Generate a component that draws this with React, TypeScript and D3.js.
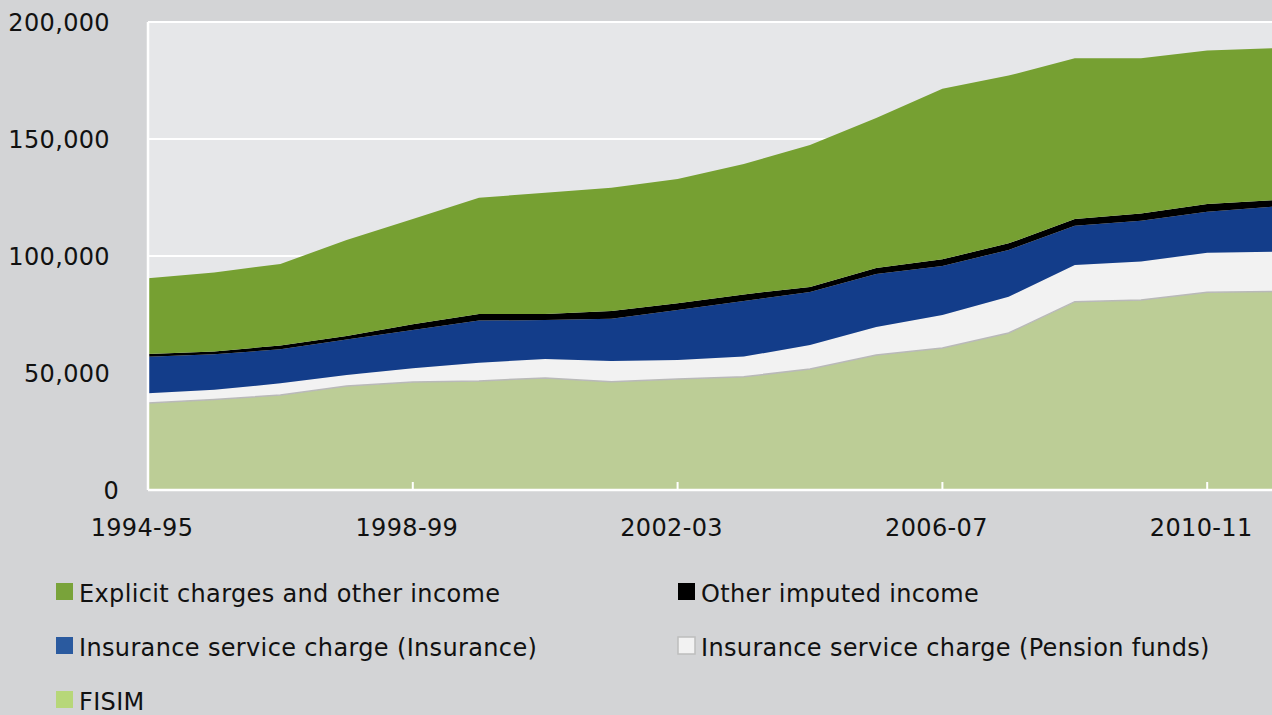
import React, { useRef, useEffect } from 'react';
import * as d3 from 'd3';

// financial services output, £ million, stacked bottom to top
const years = [
  '1994-95', '1995-96', '1996-97', '1997-98', '1998-99', '1999-00', '2000-01', '2001-02', '2002-03',
  '2003-04', '2004-05', '2005-06', '2006-07', '2007-08', '2008-09', '2009-10', '2010-11', '2011-12',
];
const fisim = [37200, 38700, 40600, 44400, 46200, 46600, 47900, 46300, 47400, 48400, 51700, 57700, 60700, 67100, 80500, 81200, 84500, 84800];
const pensionFunds = [4100, 4100, 5000, 4700, 5800, 7800, 8100, 8800, 8200, 8600, 10300, 12000, 14100, 15500, 15700, 16400, 16900, 17000];
const insurance = [15600, 15200, 14500, 15200, 16400, 18000, 16600, 18100, 21300, 23800, 22600, 22600, 20900, 20000, 16700, 17500, 17500, 19300];
const otherImputed = [1200, 1200, 1700, 1500, 2400, 2800, 2600, 3300, 2900, 2800, 2200, 2600, 2900, 2800, 2900, 3100, 3300, 2800];
const explicitCharges = [32400, 33800, 34800, 41000, 45000, 49700, 51800, 52700, 53100, 55700, 60600, 64100, 72900, 71700, 68700, 66300, 65600, 64900];

const yTicks = [0, 50000, 100000, 150000, 200000];
const xTickLabels = ['1994-95', '1998-99', '2002-03', '2006-07', '2010-11'];

const seriesKeys = ['fisim', 'pension', 'insurance', 'other', 'explicit'];
const areaColors: Record<string, string> = {
  fisim: '#bccd96',
  pension: '#f2f2f2',
  insurance: '#133d8a',
  other: '#000000',
  explicit: '#76a032',
};

const legendItems = [
  { label: 'Explicit charges and other income', color: '#79a33a', stroke: 'none' },
  { label: 'Other imputed income', color: '#000000', stroke: 'none' },
  { label: 'Insurance service charge (Insurance)', color: '#2a5a9f', stroke: 'none' },
  { label: 'Insurance service charge (Pension funds)', color: '#f2f2f2', stroke: '#bdbdbd' },
  { label: 'FISIM', color: '#b7d779', stroke: 'none' },
];

export default function App() {
  const svgRef = useRef<SVGSVGElement>(null);

  useEffect(() => {
    document.body.style.margin = '0';
    const w = 1272;
    const h = 715;
    const left = 148;
    const top = 22;
    const bottom = 490;
    const font = '"DejaVu Sans", Verdana, sans-serif';
    const spacing = '0.35px';

    const svg = d3.select(svgRef.current);
    svg.selectAll('*').remove();
    svg.attr('width', w).attr('height', h).style('display', 'block');

    svg.append('rect').attr('width', w).attr('height', h).attr('fill', '#d3d4d6');
    svg.append('rect')
      .attr('x', left).attr('y', top)
      .attr('width', w - left).attr('height', bottom - top)
      .attr('fill', '#e6e7e9');

    const xScale = d3.scalePoint<string>().domain(years).range([left, left + 66.2 * (years.length - 1)]);
    const yScale = d3.scaleLinear().domain([0, 200000]).range([bottom, top]);

    // gridlines
    svg.append('g')
      .selectAll('line')
      .data(yTicks.slice(1))
      .join('line')
      .attr('x1', left).attr('x2', w)
      .attr('y1', (d) => yScale(d)).attr('y2', (d) => yScale(d))
      .attr('stroke', '#ffffff').attr('stroke-width', 2);

    const rows = years.map((y, i) => ({
      year: y,
      fisim: fisim[i],
      pension: pensionFunds[i],
      insurance: insurance[i],
      other: otherImputed[i],
      explicit: explicitCharges[i],
    }));
    const stacked = d3.stack<any>().keys(seriesKeys)(rows);

    const area = d3.area<any>()
      .x((d) => xScale(d.data.year) as number)
      .y0((d) => yScale(d[0]))
      .y1((d) => yScale(d[1]));

    const plot = svg.append('g');
    plot.selectAll('path.layer')
      .data(stacked)
      .join('path')
      .attr('class', 'layer')
      .attr('d', (d) => area(d))
      .attr('fill', (d) => areaColors[d.key]);

    // grey edge on top of FISIM
    const fisimLine = d3.line<any>()
      .x((d) => xScale(d.data.year) as number)
      .y((d) => yScale(d[1]));
    plot.append('path')
      .attr('d', fisimLine(stacked[0]))
      .attr('fill', 'none')
      .attr('stroke', '#b9b9b9')
      .attr('stroke-width', 1.5);

    // axes lines
    svg.append('line')
      .attr('x1', left).attr('x2', left).attr('y1', top).attr('y2', bottom)
      .attr('stroke', '#ffffff').attr('stroke-width', 2.5);
    svg.append('line')
      .attr('x1', left).attr('x2', w).attr('y1', bottom).attr('y2', bottom)
      .attr('stroke', '#ffffff').attr('stroke-width', 2.5);

    // x ticks (pointing in)
    svg.append('g')
      .selectAll('line')
      .data(xTickLabels)
      .join('line')
      .attr('x1', (d) => xScale(d) as number).attr('x2', (d) => xScale(d) as number)
      .attr('y1', bottom).attr('y2', bottom - 8)
      .attr('stroke', '#ffffff').attr('stroke-width', 2);

    svg.append('g')
      .selectAll('text')
      .data(xTickLabels)
      .join('text')
      .attr('x', (d) => (xScale(d) as number) - 6)
      .attr('y', 536)
      .attr('text-anchor', 'middle')
      .style('font-family', font)
      .style('font-size', '24px')
      .style('letter-spacing', spacing)
      .attr('fill', '#111111')
      .text((d) => d);

    svg.append('g')
      .selectAll('text')
      .data(yTicks)
      .join('text')
      .attr('x', (d) => (d === 0 ? 119 : 110))
      .attr('y', (d) => yScale(d))
      .attr('dy', '0.36em')
      .attr('text-anchor', 'end')
      .style('font-family', font)
      .style('font-size', '24px')
      .style('letter-spacing', spacing)
      .attr('fill', '#111111')
      .text((d) => d3.format(',')(d));

    // legend
    const legend = svg.append('g');
    legendItems.forEach((item, i) => {
      const col = i % 2;
      const row = Math.floor(i / 2);
      const x = col === 0 ? 56 : 678;
      const y = 583 + row * 54;
      legend.append('rect')
        .attr('x', x).attr('y', y)
        .attr('width', 17).attr('height', 17)
        .attr('fill', item.color)
        .attr('stroke', item.stroke)
        .attr('stroke-width', item.stroke === 'none' ? 0 : 1.5);
      legend.append('text')
        .attr('x', x + 23).attr('y', y + 19)
        .style('font-family', font)
        .style('font-size', '24px')
        .style('letter-spacing', spacing)
        .attr('fill', '#111111')
        .text(item.label);
    });
  }, []);

  return <svg ref={svgRef}></svg>;
}
